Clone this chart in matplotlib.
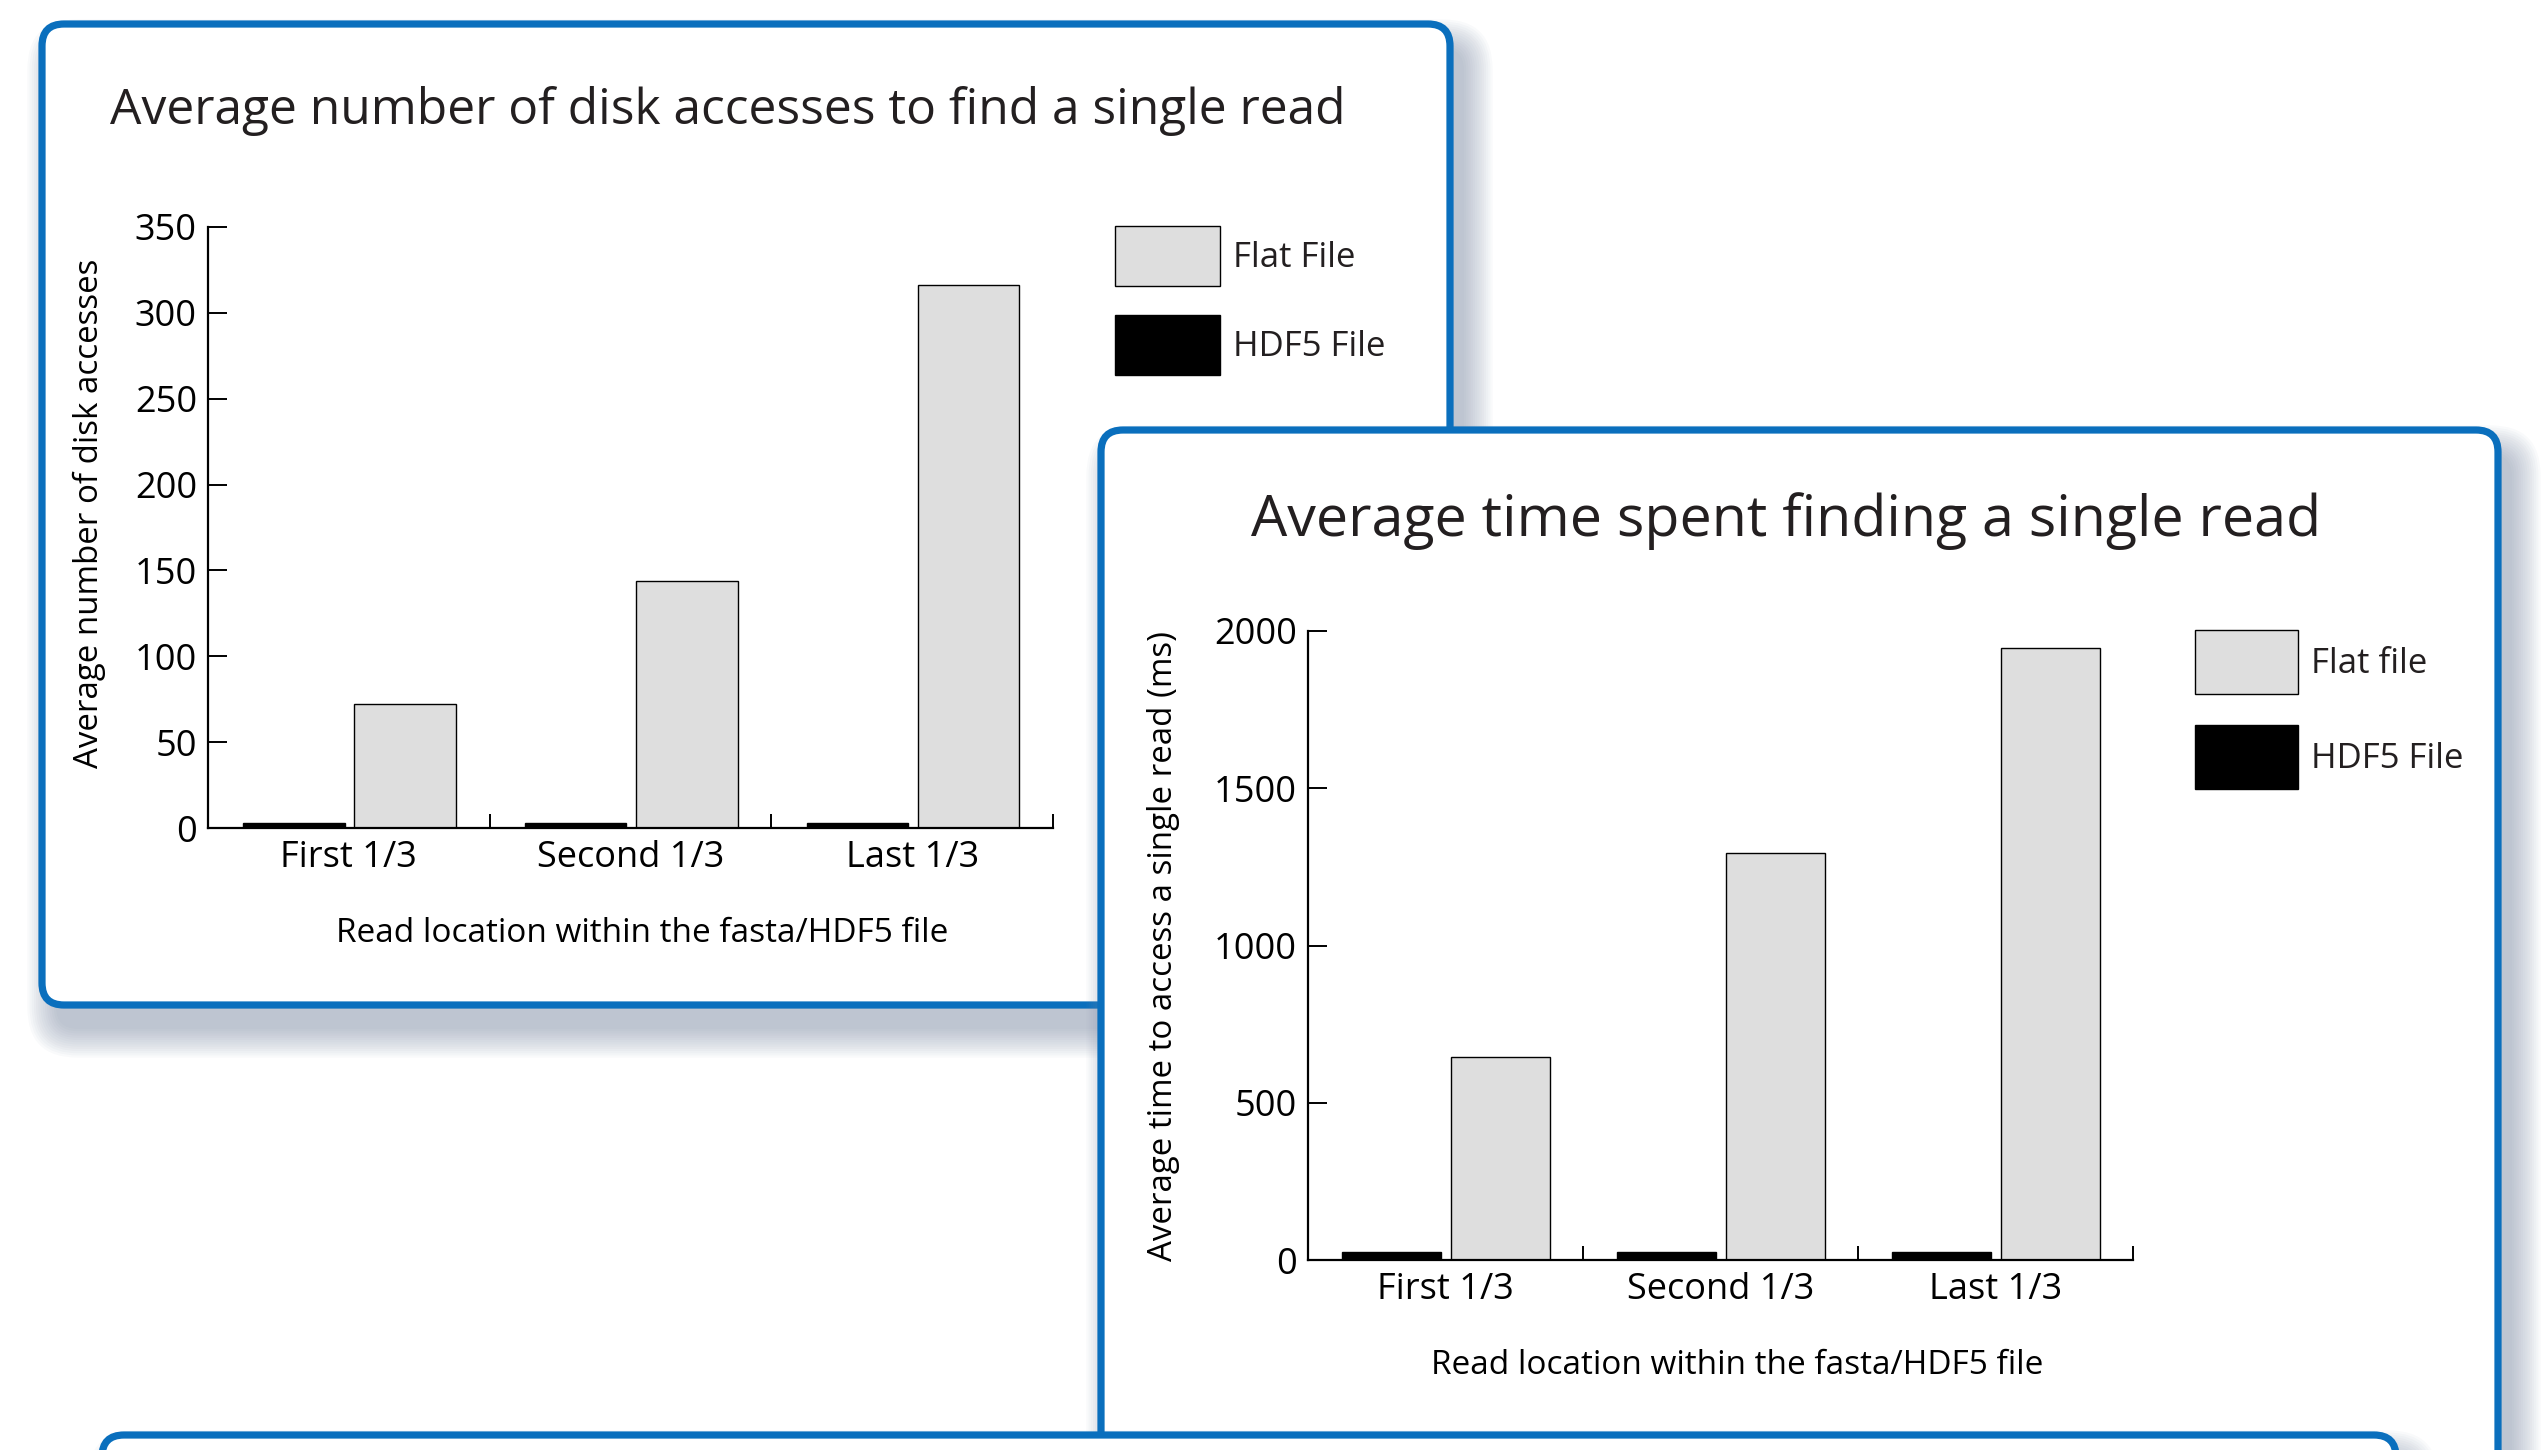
import numpy as np
import matplotlib
matplotlib.use("Agg")
import matplotlib.pyplot as plt
from matplotlib.patches import FancyBboxPatch

plt.rcParams['font.family'] = ['Open Sans', 'DejaVu Sans']
plt.rcParams['text.color'] = '#231f20'

# Data
categories = ['First 1/3', 'Second 1/3', 'Last 1/3']
flat_accesses = [72, 144, 316]
hdf5_accesses = [3, 3, 3]
flat_time_ms = [645, 1295, 1945]
hdf5_time_ms = [26, 26, 26]

W, H = 2548, 1450
BLUE = '#0a6fbd'
GREY = '#dedede'

fig = plt.figure(figsize=(W / 100, H / 100), dpi=100)

# background layer in pixel coordinates for the framed panels
bg = fig.add_axes([0, 0, 1, 1])
bg.set_xlim(0, W)
bg.set_ylim(H, 0)
bg.axis('off')


def panel(x0, y0, x1, y1, z):
    # soft drop shadow, offset down/right
    for k in range(14):
        e = k * 2.2
        bg.add_patch(FancyBboxPatch((x0 + 14 - e, y0 + 24 - e), (x1 - x0) + 2 * e, (y1 - y0) + 2 * e,
                                    boxstyle="round,pad=0,rounding_size=%d" % (22 + e),
                                    facecolor='#7f8ca6', edgecolor='none', alpha=0.045, zorder=z))
    bg.add_patch(FancyBboxPatch((x0, y0), x1 - x0, y1 - y0,
                                boxstyle="round,pad=0,rounding_size=22",
                                facecolor='white', edgecolor=BLUE, linewidth=5.2, zorder=z + 0.5))


panel(42, 24, 1450, 1005, 1)
panel(1101, 430, 2498, 1600, 2)
panel(102, 1435, 2396, 1700, 3)


def fx(px):
    return px / W


def fy(py):
    return 1 - py / H


def bar_chart(box, flat, hdf5, ymax, yticks, ylabel, ylab_xy, xlab_xy, legend_xy, labels, hsize, spacing):
    left, top, right, bottom = box
    ax = fig.add_axes([fx(left), fy(bottom), fx(right) - fx(left), fy(top) - fy(bottom)])
    ax.set_facecolor('none')
    x = np.arange(len(categories))
    b_h = ax.bar(x + 0.305, hdf5, width=0.36, color='black', edgecolor='black', linewidth=1.0)
    b_f = ax.bar(x + 0.70, flat, width=0.36, color=GREY, edgecolor='black', linewidth=1.0)
    ax.set_xlim(0, 3)
    ax.set_ylim(0, ymax)
    ax.set_yticks(yticks)
    ax.set_xticks(x + 0.5)
    ax.set_xticklabels(categories)
    ax.set_xticks([1, 2, 3], minor=True)
    ax.tick_params(axis='x', which='major', length=0, pad=8.5, labelsize=26)
    ax.tick_params(axis='x', which='minor', direction='in', length=10, width=1.4)
    ax.tick_params(axis='y', direction='in', length=14, width=1.4, pad=8, labelsize=26)
    for s in ['top', 'right']:
        ax.spines[s].set_visible(False)
    for s in ['left', 'bottom']:
        ax.spines[s].set_linewidth(1.6)
    ax.set_ylabel(ylabel, fontsize=23.8, va='center', ha='center')
    ax.yaxis.set_label_coords(fx(ylab_xy[0]), fy(ylab_xy[1]), transform=fig.transFigure)
    ax.set_xlabel('Read location within the fasta/HDF5 file', fontsize=24, va='center', ha='center')
    ax.xaxis.set_label_coords(fx(xlab_xy[0]), fy(xlab_xy[1]), transform=fig.transFigure)
    fs = 25
    em = fs * 100 / 72
    # matplotlib trims the handle box by a descent term; undo it
    hh = (hsize[1] / em - 0.245) / 0.65
    ax.legend([b_f, b_h], labels, loc='upper left',
              bbox_to_anchor=(fx(legend_xy[0]), fy(legend_xy[1])), bbox_transform=fig.transFigure,
              frameon=False, fontsize=fs, borderpad=0, borderaxespad=0,
              handlelength=hsize[0] / em, handleheight=hh,
              labelspacing=spacing / em, handletextpad=13 / em)
    return ax


bar_chart((208, 227, 1053, 828), flat_accesses, hdf5_accesses, 350, range(0, 351, 50),
          'Average number of disk accesses', (89, 513), (642, 933), (1115, 226),
          ['Flat File', 'HDF5 File'], (105, 60), 29)
bar_chart((1308, 631, 2133, 1260), flat_time_ms, hdf5_time_ms, 2000, range(0, 2001, 500),
          'Average time to access a single read (ms)', (1163, 946), (1737, 1365), (2195, 630),
          ['Flat file', 'HDF5 File'], (103, 64), 31)

fig.text(fx(728), fy(124), 'Average number of disk accesses to find a single read',
         fontsize=35.8, ha='center', va='baseline')
fig.text(fx(1786), fy(536), 'Average time spent finding a single read',
         fontsize=41.3, ha='center', va='baseline')

fig.savefig('out.png', dpi=100)
